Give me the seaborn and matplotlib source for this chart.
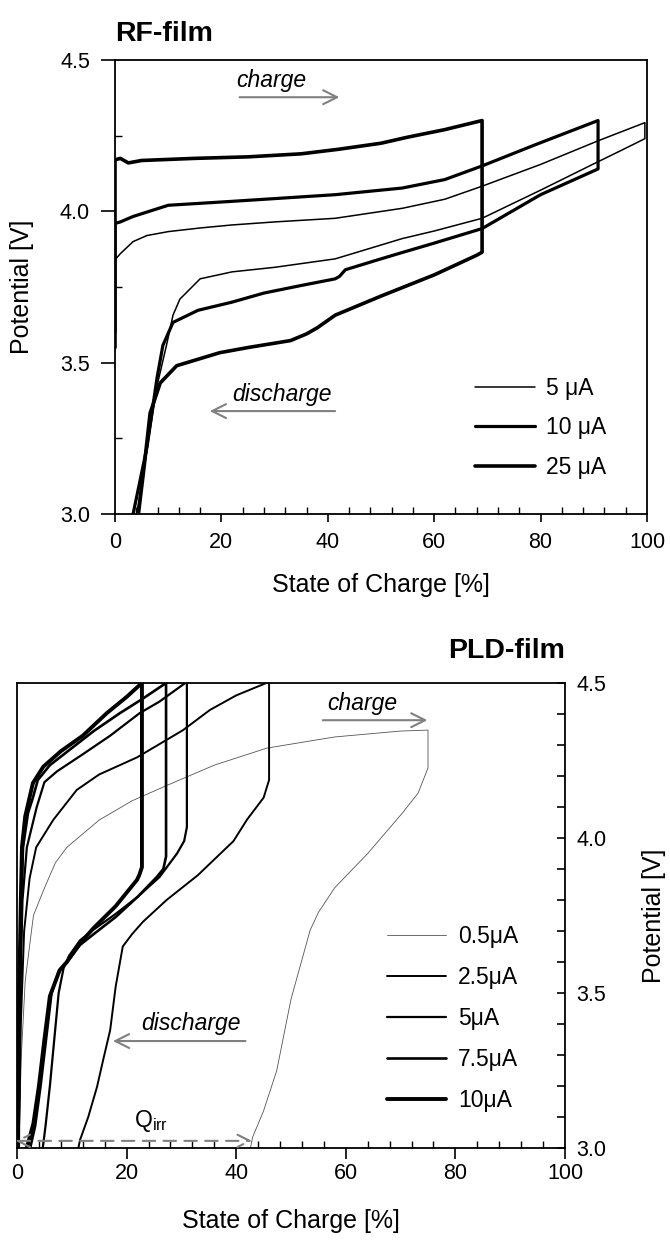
import numpy as np
import pandas as pd
import seaborn as sns
import matplotlib.pyplot as plt
from matplotlib.ticker import MultipleLocator

# ---- RF-film (top panel) : state of charge [%] vs potential [V]
rf_labels = ["5 μA", "10 μA", "25 μA"]
rf_widths = [1.1, 2.3, 2.6]

rf5_soc = [0, 0, 1, 3.4, 6, 10, 16, 22, 30, 41.4, 54, 62, 69, 80, 90.8, 99.6,
           99.6, 95, 90, 80, 69, 60, 54, 41.4, 30, 22, 16, 12.2, 10.9, 9.8, 7.9, 6, 4.1]
rf5_pot = [3.80, 3.84, 3.86, 3.90, 3.92, 3.933, 3.945, 3.955, 3.965, 3.977, 4.01, 4.04, 4.083, 4.155, 4.233, 4.293,
           4.24, 4.20, 4.157, 4.07, 3.977, 3.935, 3.91, 3.843, 3.815, 3.80, 3.777, 3.71, 3.657, 3.567, 3.423, 3.21, 3.0]

rf10_soc = [0, 0, 1, 3.4, 10, 22, 41.4, 54, 62, 69, 79, 90.8,
            90.8, 80, 69, 60, 54, 50, 43.3, 42.2, 41.4, 35, 28, 22, 15.6, 10.9, 9, 7.9, 6, 3.4]
rf10_pot = [3.60, 3.96, 3.965, 3.983, 4.02, 4.033, 4.055, 4.077, 4.105, 4.15, 4.22, 4.30,
            4.14, 4.055, 3.943, 3.895, 3.864, 3.843, 3.807, 3.785, 3.777, 3.755, 3.73, 3.70, 3.673, 3.633, 3.557, 3.45, 3.22, 3.0]

rf25_soc = [0, 0, 1, 2.5, 5, 15, 25, 35, 42, 50, 55, 62, 69,
            69, 68, 60, 50, 41.4, 38, 36, 33, 25, 19.7, 11.6, 8.5, 6.6, 5.5, 4.4]
rf25_pot = [3.55, 4.17, 4.175, 4.16, 4.168, 4.175, 4.18, 4.19, 4.205, 4.225, 4.245, 4.27, 4.30,
            3.865, 3.855, 3.79, 3.72, 3.657, 3.615, 3.595, 3.573, 3.55, 3.533, 3.49, 3.433, 3.333, 3.16, 3.0]

# ---- PLD-film (bottom panel)
pld_labels = ["0.5μA", "2.5μA", "5μA", "7.5μA", "10μA"]
pld_widths = [0.6, 1.4, 1.6, 1.9, 2.8]
pld_colors = ["#555555", "black", "black", "black", "black"]

p05_soc = [0.3, 0.8, 1.5, 3, 4.8, 7, 9.1, 15, 21, 27.4, 36, 45.6, 58, 70, 75,
           75, 73.2, 70.3, 64, 58, 55, 53.5, 50, 47.4, 45, 43, 42.6]
p05_pot = [3.0, 3.3, 3.54, 3.75, 3.83, 3.92, 3.97, 4.058, 4.12, 4.17, 4.235, 4.29, 4.326, 4.345, 4.348,
           4.226, 4.145, 4.08, 3.95, 3.84, 3.76, 3.703, 3.48, 3.25, 3.12, 3.035, 3.0]

p25_soc = [0.3, 0.7, 1.3, 2.3, 3.5, 6.6, 10.9, 15, 21.9, 30.3, 35.2, 40, 45.5, 46,
           46, 45, 42, 39.5, 33, 27.3, 23, 21, 19.3, 18, 17, 15.8, 14.6, 13, 11.5, 11.2]
p25_pot = [3.0, 3.4, 3.7, 3.87, 3.97, 4.058, 4.155, 4.205, 4.26, 4.348, 4.413, 4.46, 4.5, 4.5,
           4.187, 4.13, 4.06, 3.99, 3.88, 3.80, 3.73, 3.69, 3.65, 3.52, 3.38, 3.29, 3.197, 3.1, 3.026, 3.0]

p5_soc = [0.3, 0.6, 1.0, 1.8, 3.6, 5, 7.3, 12, 17, 22.4, 26, 30.7, 31,
          31, 30.5, 29.2, 26, 22, 18, 14, 11.5, 9.5, 8.5, 7.6, 6.8, 6, 5.2, 4.7]
p5_pot = [3.0, 3.5, 3.8, 3.97, 4.10, 4.18, 4.215, 4.27, 4.33, 4.403, 4.44, 4.5, 4.5,
          4.035, 3.99, 3.95, 3.874, 3.81, 3.755, 3.705, 3.67, 3.62, 3.58, 3.50, 3.35, 3.2, 3.07, 3.0]

p75_soc = [0.2, 0.5, 0.8, 1.1, 2, 2.9, 3.8, 6, 10, 14, 18.8, 23, 27.2,
           27.2, 26.7, 25.5, 22, 18, 14, 11.5, 9.1, 7.6, 6.3, 5.3, 4.3, 3.3, 2.4]
p75_pot = [3.0, 3.5, 3.8, 3.97, 4.08, 4.13, 4.187, 4.235, 4.29, 4.345, 4.403, 4.45, 4.5,
           3.94, 3.90, 3.874, 3.81, 3.745, 3.69, 3.655, 3.60, 3.57, 3.50, 3.35, 3.2, 3.07, 3.0]

p10_soc = [0.2, 0.4, 0.7, 0.9, 1.5, 2.9, 4.8, 8, 12, 16.4, 20, 22.8,
           22.8, 22.3, 21.9, 18, 14, 11.5, 9.1, 7.8, 6, 5, 4, 3, 1.8]
p10_pot = [3.0, 3.5, 3.8, 3.97, 4.07, 4.177, 4.23, 4.28, 4.33, 4.403, 4.455, 4.5,
           3.906, 3.88, 3.865, 3.78, 3.71, 3.66, 3.60, 3.574, 3.49, 3.35, 3.2, 3.08, 3.0]

sns.set_style("ticks")
plt.rcParams["font.family"] = ["Liberation Sans", "DejaVu Sans"]
plt.rcParams["mathtext.default"] = "regular"
for key in ["text.color", "axes.labelcolor", "xtick.color", "ytick.color", "axes.edgecolor"]:
    plt.rcParams[key] = "black"

fig = plt.figure(figsize=(6.7, 12.41), dpi=100)
ax1 = fig.add_axes([115 / 670, 1 - 514 / 1241, 532 / 670, 454 / 1241])
ax2 = fig.add_axes([17 / 670, 1 - 1148 / 1241, 548 / 670, 465 / 1241])

gray = "#808080"
tick_fs = 15.5
lab_fs = 18
note_fs = 16.5

# ---------- top panel
rf_curves = [(rf5_soc, rf5_pot), (rf10_soc, rf10_pot), (rf25_soc, rf25_pot)]
for (xs, ys), lab, lw in zip(rf_curves, rf_labels, rf_widths):
    df = pd.DataFrame({"soc": xs, "pot": ys})
    sns.lineplot(data=df, x="soc", y="pot", sort=False, estimator=None,
                 color="black", lw=lw, label=lab, ax=ax1)

ax1.set_xlim(0, 100)
ax1.set_ylim(3.0, 4.5)
ax1.xaxis.set_major_locator(MultipleLocator(20))
ax1.xaxis.set_minor_locator(MultipleLocator(4))
ax1.yaxis.set_major_locator(MultipleLocator(0.5))
ax1.yaxis.set_minor_locator(MultipleLocator(0.25))
ax1.yaxis.set_major_formatter(lambda v, p: f"{v:.1f}")
ax1.tick_params(axis="x", which="major", direction="out", length=6, width=1.2, pad=7, labelsize=tick_fs)
ax1.tick_params(axis="x", which="minor", direction="in", length=5, width=1)
ax1.tick_params(axis="y", which="major", direction="out", length=10, width=1.2, pad=8, labelsize=tick_fs)
ax1.tick_params(axis="y", which="minor", direction="in", length=5, width=1)
for s in ax1.spines.values():
    s.set_linewidth(1.3)
    s.set_visible(True)
ax1.set_xlabel("State of Charge [%]", fontsize=lab_fs)
ax1.set_ylabel("Potential [V]", fontsize=lab_fs)
ax1.xaxis.set_label_coords(0.5, -0.13)
ax1.yaxis.set_label_coords(-0.152, 0.5)
ax1.text(0, 1.042, "RF-film", transform=ax1.transAxes, ha="left", va="baseline",
         fontsize=20.5, fontweight="bold")
ax1.legend(loc="center left", bbox_to_anchor=(0.677, 0.19), frameon=False, fontsize=note_fs,
           handlelength=2.6, handletextpad=0.5, labelspacing=0.72, borderpad=0, borderaxespad=0)

ax1.annotate("", xy=(42.7, 4.377), xytext=(22.9, 4.377),
             arrowprops=dict(arrowstyle="->", color=gray, lw=1.5, mutation_scale=25))
ax1.text(29.3, 4.41, "charge", style="italic", fontsize=note_fs, ha="center", va="baseline")
ax1.annotate("", xy=(17.3, 3.34), xytext=(41.9, 3.34),
             arrowprops=dict(arrowstyle="->", color=gray, lw=1.5, mutation_scale=25))
ax1.text(31.4, 3.373, "discharge", style="italic", fontsize=note_fs, ha="center", va="baseline")

# ---------- bottom panel
pld_curves = [(p05_soc, p05_pot), (p25_soc, p25_pot), (p5_soc, p5_pot),
              (p75_soc, p75_pot), (p10_soc, p10_pot)]
for (xs, ys), lab, lw, c in zip(pld_curves, pld_labels, pld_widths, pld_colors):
    df = pd.DataFrame({"soc": xs, "pot": ys})
    sns.lineplot(data=df, x="soc", y="pot", sort=False, estimator=None,
                 color=c, lw=lw, label=lab, ax=ax2)

ax2.set_xlim(0, 100)
ax2.set_ylim(3.0, 4.5)
ax2.yaxis.tick_right()
ax2.yaxis.set_label_position("right")
ax2.xaxis.set_major_locator(MultipleLocator(20))
ax2.xaxis.set_minor_locator(MultipleLocator(4))
ax2.yaxis.set_major_locator(MultipleLocator(0.5))
ax2.yaxis.set_minor_locator(MultipleLocator(0.1))
ax2.yaxis.set_major_formatter(lambda v, p: f"{v:.1f}")
ax2.tick_params(axis="x", which="major", direction="out", length=8, width=1.2, pad=3, labelsize=tick_fs)
ax2.tick_params(axis="x", which="minor", direction="in", length=5, width=1)
ax2.tick_params(axis="y", which="both", direction="in", length=6, width=1.2, pad=8, labelsize=tick_fs)
for s in ax2.spines.values():
    s.set_linewidth(1.3)
    s.set_visible(True)
ax2.set_xlabel("State of Charge [%]", fontsize=lab_fs)
ax2.set_ylabel("Potential [V]", fontsize=lab_fs)
ax2.xaxis.set_label_coords(0.5, -0.132)
ax2.yaxis.set_label_coords(1.14, 0.5)
ax2.text(1.0, 1.054, "PLD-film", transform=ax2.transAxes, ha="right", va="baseline",
         fontsize=20.5, fontweight="bold")
ax2.legend(loc="center left", bbox_to_anchor=(0.675, 0.278), frameon=False, fontsize=note_fs,
           handlelength=2.6, handletextpad=0.5, labelspacing=0.78, borderpad=0, borderaxespad=0)

ax2.annotate("", xy=(75.4, 4.38), xytext=(55.3, 4.38),
             arrowprops=dict(arrowstyle="->", color=gray, lw=1.5, mutation_scale=25))
ax2.text(63, 4.413, "charge", style="italic", fontsize=note_fs, ha="center", va="baseline")
ax2.annotate("", xy=(17, 3.345), xytext=(42.2, 3.345),
             arrowprops=dict(arrowstyle="->", color=gray, lw=1.5, mutation_scale=25))
ax2.text(31.7, 3.381, "discharge", style="italic", fontsize=note_fs, ha="center", va="baseline")
ax2.annotate("", xy=(42.9, 3.023), xytext=(-0.3, 3.023),
             arrowprops=dict(arrowstyle="<->", color=gray, lw=1.5, ls=(0, (6, 4)),
                             mutation_scale=22, shrinkA=0, shrinkB=0), annotation_clip=False)
ax2.text(21.3, 3.068, r"Q$_{irr}$", fontsize=note_fs, ha="left", va="baseline")

fig.savefig("out.png", dpi=100)
